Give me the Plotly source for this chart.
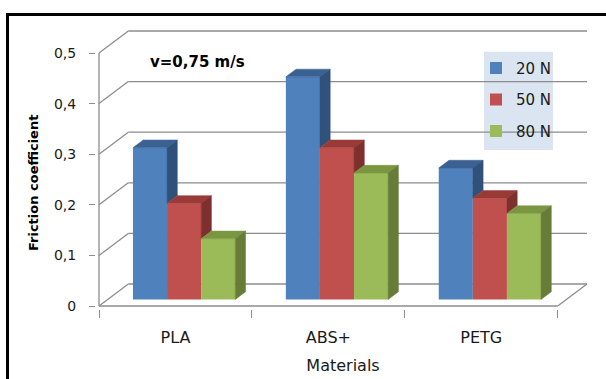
import plotly.graph_objects as go

# ---------------- data ----------------
materials = ["PLA", "ABS+", "PETG"]
loads = ["20 N", "50 N", "80 N"]
friction_20N = [0.30, 0.44, 0.26]
friction_50N = [0.19, 0.30, 0.20]
friction_80N = [0.12, 0.25, 0.17]
y_ticks = [0, 0.1, 0.2, 0.3, 0.4, 0.5]
speed_label = "v=0,75 m/s"
x_title = "Materials"
y_title = "Friction coefficient"

series = [friction_20N, friction_50N, friction_80N]

# ---------------- style ----------------
front_colors = ["#4F81BD", "#C0504D", "#9BBB59"]
top_colors = ["#3A6192", "#9A3A37", "#7A9641"]
side_colors = ["#30517A", "#7E302E", "#667C37"]
grid_color = "#8C8C8C"
FONT = "DejaVu Sans"

W_PX, H_PX = 606, 379
PXX = 152.9          # px per category
PXY = 506.0          # px per value unit
PAD = 3.0            # px padding round the 3D box
DX = 29.3 / PXX      # depth offset (x units)
DY = 22.0 / PXY      # depth offset (value units)
F0, F1 = 0.295, 0.645  # bar front / back depth fractions
BW = 34.1 / PXX      # bar width

n = len(materials)
x_lo, x_hi = -0.5, n - 0.5
v_top = max(y_ticks)
xr = [x_lo - PAD / PXX, x_hi + DX + PAD / PXX]
yr = [-PAD / PXY, v_top + DY + PAD / PXY]
L = 96
T = 28
plot_w = (xr[1] - xr[0]) * PXX
plot_h = (yr[1] - yr[0]) * PXY
R = W_PX - L - plot_w
B = H_PX - T - plot_h

fig = go.Figure()

# front faces as real bars
for k, (name, vals) in enumerate(zip(loads, series)):
    fig.add_trace(go.Bar(
        x=materials, y=vals, base=F0 * DY,
        offset=F0 * DX - 1.5 * BW + k * BW, width=BW,
        name=name, legendgroup=name,
        marker=dict(color=front_colors[k], line=dict(width=0)),
    ))

# 3D top and side faces computed from the values
dX = (F1 - F0) * DX
dY = (F1 - F0) * DY
b0 = F0 * DY
for i in range(n):
    for k in range(len(series)):
        v = series[k][i]
        x0 = i + F0 * DX - 1.5 * BW + k * BW
        x1 = x0 + BW
        top = b0 + v
        fig.add_trace(go.Scatter(
            x=[x0, x1, x1 + dX, x0 + dX, x0],
            y=[top, top, top + dY, top + dY, top],
            xaxis="x2", yaxis="y", mode="lines", fill="toself",
            fillcolor=top_colors[k], line=dict(color=top_colors[k], width=0.5),
            showlegend=False, hoverinfo="skip"))
        lo = b0 if k == len(series) - 1 else b0 + min(series[k + 1][i], v)
        if top > lo:
            fig.add_trace(go.Scatter(
                x=[x1, x1 + dX, x1 + dX, x1, x1],
                y=[lo, lo + dY, top + dY, top, lo],
                xaxis="x2", yaxis="y", mode="lines", fill="toself",
                fillcolor=side_colors[k], line=dict(color=side_colors[k], width=0.5),
                showlegend=False, hoverinfo="skip"))

# walls / floor grid
shapes = []
def seg(xa, ya, xb, yb):
    shapes.append(dict(type="line", xref="x", yref="y", x0=xa, y0=ya, x1=xb, y1=yb,
                       line=dict(color=grid_color, width=1.3), layer="below"))
for v in y_ticks:
    seg(x_lo + DX, v + DY, x_hi + DX, v + DY)
    seg(x_lo, v, x_lo + DX, v + DY)
seg(x_lo, 0, x_hi, 0)
seg(x_hi, 0, x_hi + DX, DY)
seg(x_lo, 0, x_lo, v_top)

def px2paper_x(px):
    return (px - L) / plot_w
def px2paper_y(py):
    return (H_PX - B - py) / plot_h

# legend box
shapes.append(dict(type="rect", xref="paper", yref="paper",
                   x0=px2paper_x(484), x1=px2paper_x(553), y0=px2paper_y(150), y1=px2paper_y(51.7),
                   line=dict(width=0), fillcolor="#DBE5F1", layer="below"))

# outer frame
shapes.append(dict(type="rect", xref="paper", yref="paper",
                   x0=px2paper_x(7.5), x1=px2paper_x(630), y0=px2paper_y(400), y1=px2paper_y(14.5),
                   line=dict(color="black", width=3), fillcolor="rgba(0,0,0,0)"))

fig.update_layout(
    width=W_PX, height=H_PX,
    margin=dict(l=L, r=R, t=T, b=B, autoexpand=False),
    paper_bgcolor="white", plot_bgcolor="rgba(0,0,0,0)",
    separators=",.",
    barmode="overlay",
    font=dict(family=FONT, size=14, color="#1a1a1a"),
    shapes=shapes,
    showlegend=True,
    legend=dict(x=px2paper_x(476), y=px2paper_y(51.7), xanchor="left", yanchor="top",
                bgcolor="rgba(0,0,0,0)", font=dict(family=FONT, size=15, color="#1a1a1a"),
                tracegroupgap=9, traceorder="grouped"),
    xaxis=dict(type="category", range=xr, tickson="boundaries", ticks="outside",
               ticklen=8, tickcolor=grid_color, tickwidth=1.3,
               showgrid=False, showline=False, zeroline=False,
               tickfont=dict(family=FONT, size=16), ticklabelstandoff=17,
               title=dict(text=x_title, font=dict(family=FONT, size=16), standoff=13),
               fixedrange=True),
    xaxis2=dict(type="linear", overlaying="x", range=xr, visible=False, fixedrange=True),
    yaxis=dict(range=yr, tickvals=y_ticks, ticks="outside", ticklen=6,
               tickcolor=grid_color, tickwidth=1.3,
               showgrid=False, showline=False, zeroline=False,
               tickfont=dict(family=FONT, size=14), ticklabelstandoff=10,
               fixedrange=True),
    annotations=[
        dict(text="<b>" + speed_label + "</b>", xref="paper", yref="paper",
             x=px2paper_x(197.5), y=px2paper_y(62), xanchor="center", yanchor="middle",
             showarrow=False, font=dict(family=FONT, size=15, color="black")),
        dict(text="<b>" + y_title + "</b>", xref="paper", yref="paper", textangle=-90,
             x=px2paper_x(33), y=px2paper_y(183), xanchor="center", yanchor="middle",
             showarrow=False, font=dict(family=FONT, size=13, color="black")),
    ],
)

fig.write_html("out.html")
